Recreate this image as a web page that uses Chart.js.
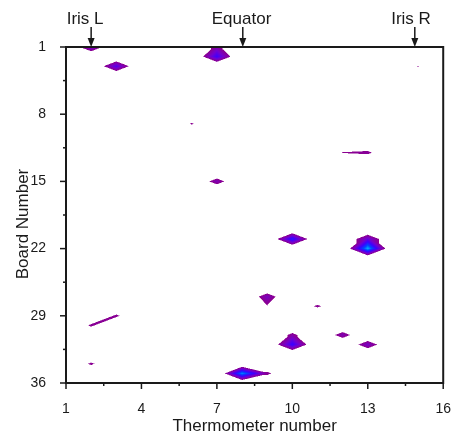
<!DOCTYPE html>
<html>
<head>
<meta charset="utf-8">
<script src="https://cdn.jsdelivr.net/npm/chart.js@4/dist/chart.umd.min.js"></script>
<style>
  html, body { margin: 0; padding: 0; background: #fff; }
  #wrap { width: 461px; height: 442px; }
</style>
</head>
<body>
<div id="wrap"><canvas id="contourChart"></canvas></div>
<script>
// axis ticks
const thermTicks = [1, 4, 7, 10, 13, 16];
const boardTicks = [1, 8, 15, 22, 29, 36];

// grid nodes above zero (thermometer, board, value) - everything else is 0
const peakTherm = [2, 3, 7, 7, 14, 15, 6, 12, 13, 7, 10, 13, 13, 9, 9, 11, 3, 2, 12, 10, 10, 13, 2, 8, 9];
const peakBoard = [1, 3, 1, 2, 1, 3, 9, 12, 12, 15, 21, 22, 21, 27, 28, 28, 29, 30, 31, 32, 31, 32, 34, 35, 35];
const peakLevel = [1.8, 2.0, 1.3, 2.2, 1.12, 1.04, 1.09, 1.05, 1.2, 1.43, 2.5, 3.4, 1.8, 1.5, 0.95, 1.16, 1.15, 1.15, 1.43, 2.3, 1.25, 1.6, 1.15, 3.2, 1.2];

// markers above the plot
const markerNames = ['Iris L', 'Equator', 'Iris R'];
const markerTherm = [2, 8.03, 14.87];
const markerLabelTherm = [1.76, 7.98, 14.72];

const NX = 16, NY = 36, LEVEL_MIN = 1, LEVEL_MAX = 3.4;
const FONT = 'Arial, "Liberation Sans", sans-serif';
const INK = '#1a1a1a';

const grid = [];
for (let j = 0; j < NY; j++) grid.push(new Array(NX).fill(0));
peakTherm.forEach((t, k) => { grid[peakBoard[k] - 1][t - 1] = peakLevel[k]; });

// linear interpolation on a triangulated grid
function field(x, y) {
  const i = Math.min(Math.max(Math.floor(x), 1), NX - 1);
  const j = Math.min(Math.max(Math.floor(y), 1), NY - 1);
  const u = x - i, w = y - j;
  const a = grid[j - 1][i - 1], b = grid[j - 1][i], c = grid[j][i - 1], d = grid[j][i];
  const useAD = Math.min(b, c) === 0 && Math.max(b, c) > Math.max(a, d);
  if (useAD) {
    if (u >= w) return a + (b - a) * u + (d - b) * w;
    return a + (c - a) * w + (d - c) * u;
  }
  if (u + w <= 1) return a + (b - a) * u + (c - a) * w;
  return d + (c - d) * (1 - u) + (b - d) * (1 - w);
}

const stops = [
  [0, [140, 0, 140]],
  [0.25, [118, 0, 205]],
  [0.5, [60, 0, 255]],
  [0.75, [0, 70, 255]],
  [1, [0, 180, 255]]
];
function colorFor(v) {
  const t = Math.min(Math.max((v - LEVEL_MIN) / (LEVEL_MAX - LEVEL_MIN), 0), 1);
  for (let k = 1; k < stops.length; k++) {
    if (t <= stops[k][0]) {
      const [t0, c0] = stops[k - 1], [t1, c1] = stops[k];
      const f = (t - t0) / (t1 - t0);
      return c0.map((c, n) => c + (c1[n] - c) * f);
    }
  }
  return stops[stops.length - 1][1];
}

const contourPlugin = {
  id: 'contour',
  beforeDatasetsDraw(chart) {
    const { ctx, chartArea: ca, scales: { x, y } } = chart;
    const w = Math.round(ca.right - ca.left), h = Math.round(ca.bottom - ca.top);
    const off = document.createElement('canvas');
    off.width = w; off.height = h;
    const octx = off.getContext('2d');
    const img = octx.createImageData(w, h);
    const sub = [0.25, 0.75];
    const xs = [], ys = [];
    for (let px = 0; px < w; px++) sub.forEach(s => xs.push(x.getValueForPixel(ca.left + px + s)));
    for (let py = 0; py < h; py++) sub.forEach(s => ys.push(y.getValueForPixel(ca.top + py + s)));
    for (let py = 0; py < h; py++) {
      for (let px = 0; px < w; px++) {
        let r = 0, g = 0, b = 0, n = 0;
        for (let sy = 0; sy < 2; sy++) {
          for (let sx = 0; sx < 2; sx++) {
            const v = field(xs[px * 2 + sx], ys[py * 2 + sy]);
            if (v >= LEVEL_MIN) {
              const c = colorFor(v);
              r += c[0]; g += c[1]; b += c[2]; n++;
            }
          }
        }
        if (!n) continue;
        const idx = (py * w + px) * 4;
        img.data[idx] = r / n; img.data[idx + 1] = g / n; img.data[idx + 2] = b / n;
        img.data[idx + 3] = 255 * n / 4;
      }
    }
    octx.putImageData(img, 0, 0);
    ctx.drawImage(off, ca.left, ca.top);
  },
  afterDraw(chart) {
    const { ctx, chartArea: ca, scales: { x, y } } = chart;
    ctx.save();
    ctx.strokeStyle = INK;
    ctx.fillStyle = INK;
    ctx.lineWidth = 1.5;
    x.ticks.forEach(t => {
      const px = x.getPixelForValue(t.value);
      const len = thermTicks.includes(t.value) ? 6 : 3;
      ctx.beginPath(); ctx.moveTo(px, ca.bottom); ctx.lineTo(px, ca.bottom + len); ctx.stroke();
    });
    y.ticks.forEach(t => {
      const py = y.getPixelForValue(t.value);
      const len = boardTicks.includes(t.value) ? 6 : 3;
      ctx.beginPath(); ctx.moveTo(ca.left, py); ctx.lineTo(ca.left - len, py); ctx.stroke();
    });
    ctx.lineWidth = 2;
    ctx.strokeRect(ca.left, ca.top, ca.right - ca.left, ca.bottom - ca.top);

    ctx.font = '17px ' + FONT;
    ctx.textAlign = 'center';

    // y title, sits a little below the middle of the axis
    ctx.save();
    ctx.translate(23, 224);
    ctx.rotate(-Math.PI / 2);
    ctx.textBaseline = 'middle';
    ctx.fillText('Board Number', 0, 0);
    ctx.restore();

    // markers
    ctx.textBaseline = 'alphabetic';
    markerNames.forEach((name, k) => {
      ctx.fillText(name, x.getPixelForValue(markerLabelTherm[k]), 23.5);
      const px = x.getPixelForValue(markerTherm[k]);
      ctx.lineWidth = 1.5;
      ctx.beginPath(); ctx.moveTo(px, 27); ctx.lineTo(px, ca.top - 6); ctx.stroke();
      ctx.beginPath();
      ctx.moveTo(px - 3.5, ca.top - 9); ctx.lineTo(px + 3.5, ca.top - 9); ctx.lineTo(px, ca.top);
      ctx.closePath(); ctx.fill();
    });
    ctx.restore();
  }
};

const minorTicks = arr => arr.slice(0, -1).map((v, k) => (v + arr[k + 1]) / 2);
const thermAll = [...thermTicks, ...minorTicks(thermTicks)].sort((a, b) => a - b);
const boardAll = [...boardTicks, ...minorTicks(boardTicks)].sort((a, b) => a - b);

new Chart(document.getElementById('contourChart'), {
  type: 'scatter',
  data: {
    datasets: [{
      label: 'nodes',
      data: peakTherm.map((t, k) => ({ x: t, y: peakBoard[k] })),
      pointRadius: 0
    }]
  },
  options: {
    responsive: true, maintainAspectRatio: false, animation: false,
    layout: { padding: { top: 47, right: 13, left: 0, bottom: 0 } },
    plugins: { legend: { display: false }, tooltip: { enabled: false } },
    scales: {
      x: {
        type: 'linear', min: 1, max: 16,
        afterBuildTicks: s => { s.ticks = thermAll.map(v => ({ value: v })); },
        afterFit: s => { s.height = 59; },
        grid: { display: false },
        border: { display: false },
        ticks: {
          padding: 10, color: INK, font: { family: FONT, size: 14 },
          autoSkip: false, maxRotation: 0,
          callback: v => thermTicks.includes(v) ? String(v) : ''
        },
        title: { display: true, text: 'Thermometer number', color: INK, font: { family: FONT, size: 17 }, padding: { top: 0, bottom: 5 } }
      },
      y: {
        type: 'linear', min: 1, max: 36, reverse: true,
        afterBuildTicks: s => { s.ticks = boardAll.map(v => ({ value: v })); },
        afterFit: s => { s.width = 66; },
        grid: { display: false },
        border: { display: false },
        ticks: {
          padding: 12, color: INK, font: { family: FONT, size: 14 },
          autoSkip: false,
          callback: v => boardTicks.includes(v) ? String(v) : ''
        },
        title: { display: false }
      }
    }
  },
  plugins: [contourPlugin]
});
</script>
</body>
</html>
